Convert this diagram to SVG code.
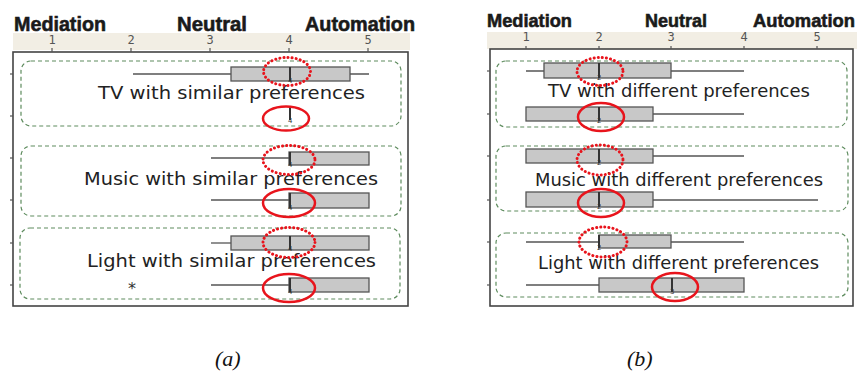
<svg xmlns="http://www.w3.org/2000/svg" width="857" height="371" viewBox="0 0 857 371">
<style>
.hdr{font-family:"Liberation Sans",Arial,sans-serif;font-weight:bold;fill:#1a1a1a;stroke:#1a1a1a;stroke-width:0.6}
.tk{font-family:"DejaVu Sans Mono","Liberation Mono",monospace;font-size:12px;fill:#555}
.lbl{font-family:"DejaVu Sans",Verdana,sans-serif;font-size:18px;fill:#222}
.band{fill:#f2eee4}
.frame{fill:#fff;stroke:#444;stroke-width:1.6}
.grp{fill:none;stroke:#5e8c5e;stroke-width:1.2;stroke-dasharray:4 3}
.box{fill:#c8c8c8;stroke:#555;stroke-width:1.3}
.wh{stroke:#555;stroke-width:1.3;fill:none}
.med{stroke:#333;stroke-width:2}
.tick{stroke:#555;stroke-width:1.2}
.dig{font-family:"DejaVu Sans",sans-serif;font-size:7px;fill:#333}
.dot{fill:none;stroke:#e8141c;stroke-width:3;stroke-dasharray:0.1 4;stroke-linecap:round}
.sol{fill:none;stroke:#e8141c;stroke-width:2.5}
.cap{font-family:"Liberation Serif","Times New Roman",serif;font-style:italic;font-size:22px;fill:#111}
</style>

<g id="panel-a">
  <rect class="band" x="13" y="33" width="397" height="17"/>
  <text class="hdr" x="14" y="31" font-size="21" textLength="92" lengthAdjust="spacingAndGlyphs">Mediation</text>
  <text class="hdr" x="177" y="31" font-size="21" textLength="70" lengthAdjust="spacingAndGlyphs">Neutral</text>
  <text class="hdr" x="305" y="31" font-size="21" textLength="110" lengthAdjust="spacingAndGlyphs">Automation</text>
  <g text-anchor="middle">
    <text class="tk" x="52" y="44">1</text>
    <text class="tk" x="131" y="44">2</text>
    <text class="tk" x="210" y="44">3</text>
    <text class="tk" x="289" y="44">4</text>
    <text class="tk" x="368" y="44">5</text>
  </g>
  <rect class="frame" x="13" y="52" width="395" height="254"/>
  <g class="tick">
    <line x1="52" y1="48" x2="52" y2="52"/><line x1="131" y1="48" x2="131" y2="52"/><line x1="210" y1="48" x2="210" y2="52"/><line x1="289" y1="48" x2="289" y2="52"/><line x1="368" y1="48" x2="368" y2="52"/>
    <line x1="10" y1="74" x2="13" y2="74"/><line x1="10" y1="116" x2="13" y2="116"/><line x1="10" y1="158" x2="13" y2="158"/><line x1="10" y1="200" x2="13" y2="200"/><line x1="10" y1="243" x2="13" y2="243"/><line x1="10" y1="285" x2="13" y2="285"/>
  </g>
  <g id="a-tv">
    <rect class="grp" x="21" y="61" width="380" height="65" rx="10"/>
    <line class="wh" x1="133" y1="74" x2="369" y2="74"/>
    <rect class="box" x="231" y="67" width="119" height="14"/>
    <line class="med" x1="290" y1="67" x2="290" y2="81"/>
    <text class="dig" x="288" y="83">4</text>
    <text class="lbl" x="98" y="99" textLength="267" lengthAdjust="spacingAndGlyphs">TV with similar preferences</text>
    <line class="med" x1="290" y1="107" x2="290" y2="120"/>
    <text class="dig" x="288" y="123">4</text>
    <ellipse class="dot" cx="287" cy="71.5" rx="23.5" ry="14"/>
    <ellipse class="sol" cx="286" cy="118.5" rx="23" ry="12"/>
  </g>
  <g id="a-music">
    <rect class="grp" x="21" y="146" width="380" height="70" rx="10"/>
    <line class="wh" x1="211" y1="158" x2="289" y2="158"/>
    <rect class="box" x="289" y="152" width="80" height="13"/>
    <line class="med" x1="290" y1="152" x2="290" y2="165"/>
    <text class="dig" x="288" y="167">4</text>
    <text class="lbl" x="84" y="185" textLength="294" lengthAdjust="spacingAndGlyphs">Music with similar preferences</text>
    <line class="wh" x1="211" y1="200" x2="289" y2="200"/>
    <rect class="box" x="289" y="193" width="80" height="15"/>
    <line class="med" x1="290" y1="193" x2="290" y2="208"/>
    <text class="dig" x="288" y="210">4</text>
    <ellipse class="dot" cx="289" cy="160" rx="26" ry="14.5"/>
    <ellipse class="sol" cx="289" cy="203" rx="26" ry="14"/>
  </g>
  <g id="a-light">
    <rect class="grp" x="20" y="228" width="380" height="71" rx="10"/>
    <line class="wh" x1="211" y1="243" x2="231" y2="243"/>
    <rect class="box" x="231" y="236" width="138" height="14"/>
    <line class="med" x1="290" y1="236" x2="290" y2="250"/>
    <text class="dig" x="288" y="251">4</text>
    <text class="lbl" x="87" y="267" textLength="289" lengthAdjust="spacingAndGlyphs">Light with similar preferences</text>
    <text x="132" y="294" font-family="DejaVu Sans,sans-serif" font-size="16" fill="#333" text-anchor="middle">*</text>
    <line class="wh" x1="211" y1="285" x2="289" y2="285"/>
    <rect class="box" x="289" y="278" width="80" height="14"/>
    <line class="med" x1="290" y1="278" x2="290" y2="292"/>
    <text class="dig" x="288" y="294">4</text>
    <ellipse class="dot" cx="289" cy="242.5" rx="26" ry="15"/>
    <ellipse class="sol" cx="289" cy="288" rx="26" ry="14"/>
  </g>
</g>

<g id="panel-b">
  <rect class="band" x="487" y="32" width="370" height="17"/>
  <text class="hdr" x="487" y="27" font-size="19" textLength="85" lengthAdjust="spacingAndGlyphs">Mediation</text>
  <text class="hdr" x="645" y="27" font-size="19" textLength="62" lengthAdjust="spacingAndGlyphs">Neutral</text>
  <text class="hdr" x="753" y="27" font-size="19" textLength="102" lengthAdjust="spacingAndGlyphs">Automation</text>
  <g text-anchor="middle">
    <text class="tk" x="526" y="41">1</text>
    <text class="tk" x="599" y="41">2</text>
    <text class="tk" x="671" y="41">3</text>
    <text class="tk" x="744" y="41">4</text>
    <text class="tk" x="817" y="41">5</text>
  </g>
  <rect class="frame" x="490" y="49" width="363" height="257"/>
  <g class="tick">
    <line x1="526" y1="46" x2="526" y2="49"/><line x1="599" y1="46" x2="599" y2="49"/><line x1="671" y1="46" x2="671" y2="49"/><line x1="744" y1="46" x2="744" y2="49"/><line x1="817" y1="46" x2="817" y2="49"/>
    <line x1="487" y1="71" x2="490" y2="71"/><line x1="487" y1="114" x2="490" y2="114"/><line x1="487" y1="156" x2="490" y2="156"/><line x1="487" y1="200" x2="490" y2="200"/><line x1="487" y1="242" x2="490" y2="242"/><line x1="487" y1="285" x2="490" y2="285"/>
  </g>
  <g id="b-tv">
    <rect class="grp" x="496" y="61" width="351" height="66" rx="10"/>
    <line class="wh" x1="526" y1="71" x2="744" y2="71"/>
    <rect class="box" x="544" y="63" width="127" height="15"/>
    <line class="med" x1="599" y1="63" x2="599" y2="78"/>
    <text class="dig" x="597" y="80">2</text>
    <text class="lbl" x="548" y="97" textLength="262" lengthAdjust="spacingAndGlyphs">TV with different preferences</text>
    <line class="wh" x1="653" y1="114" x2="744" y2="114"/>
    <rect class="box" x="526" y="107" width="127" height="14"/>
    <line class="med" x1="599" y1="107" x2="599" y2="121"/>
    <text class="dig" x="597" y="123">2</text>
    <ellipse class="dot" cx="600" cy="71.5" rx="23" ry="14"/>
    <ellipse class="sol" cx="601" cy="117" rx="23" ry="14"/>
  </g>
  <g id="b-music">
    <rect class="grp" x="496" y="146" width="352" height="65" rx="10"/>
    <line class="wh" x1="653" y1="156" x2="744" y2="156"/>
    <rect class="box" x="526" y="149" width="127" height="14"/>
    <line class="med" x1="599" y1="149" x2="599" y2="163"/>
    <text class="dig" x="597" y="165">2</text>
    <text class="lbl" x="535" y="186" textLength="288" lengthAdjust="spacingAndGlyphs">Music with different preferences</text>
    <line class="wh" x1="653" y1="200" x2="818" y2="200"/>
    <rect class="box" x="526" y="192" width="127" height="15"/>
    <line class="med" x1="599" y1="192" x2="599" y2="207"/>
    <text class="dig" x="597" y="209">2</text>
    <ellipse class="dot" cx="600" cy="160" rx="23" ry="15"/>
    <ellipse class="sol" cx="601" cy="203" rx="23" ry="14"/>
  </g>
  <g id="b-light">
    <rect class="grp" x="496" y="233" width="352" height="64" rx="10"/>
    <line class="wh" x1="526" y1="242" x2="744" y2="242"/>
    <rect class="box" x="599" y="235" width="72" height="13"/>
    <line class="med" x1="599" y1="235" x2="599" y2="248"/>
    <text class="dig" x="597" y="250">2</text>
    <text class="lbl" x="538" y="269" textLength="281" lengthAdjust="spacingAndGlyphs">Light with different preferences</text>
    <line class="wh" x1="526" y1="285" x2="599" y2="285"/>
    <rect class="box" x="599" y="278" width="145" height="14"/>
    <line class="med" x1="672" y1="278" x2="672" y2="292"/>
    <text class="dig" x="670" y="294">3</text>
    <ellipse class="dot" cx="603" cy="242" rx="24" ry="15"/>
    <ellipse class="sol" cx="675" cy="287" rx="23" ry="14"/>
  </g>
</g>

<text class="cap" x="215" y="366">(a)</text>
<text class="cap" x="627" y="366">(b)</text>
</svg>
